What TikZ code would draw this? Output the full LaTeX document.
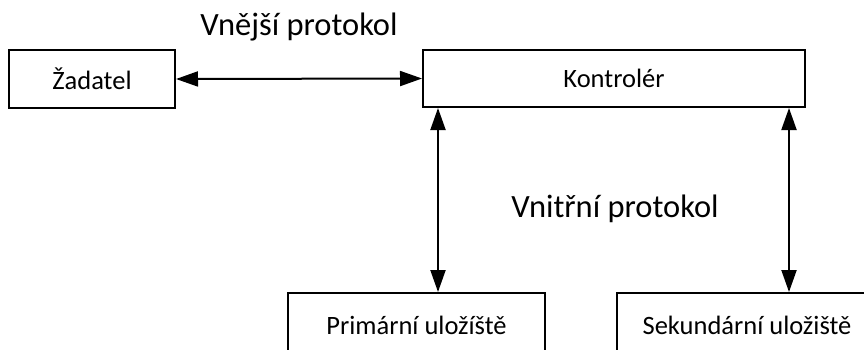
\documentclass[tikz,border=0pt]{standalone}
\usepackage{fontspec}
\setmainfont{Carlito}
\usetikzlibrary{arrows.meta}
\begin{document}
\begin{tikzpicture}[x=1pt,y=-1pt,
  blok/.style={draw,line width=2pt,inner sep=0pt,font=\fontsize{26.5}{31}\selectfont},
  popis/.style={inner sep=0pt,anchor=base,font=\fontsize{32.5}{38}\selectfont},
  obousm/.style={line width=2pt,{Triangle[length=22pt,width=15pt]}-{Triangle[length=22pt,width=15pt]}}]
  \clip (0,0) rectangle (864,349);
  % blocks
  \node[blok,minimum width=166pt,minimum height=58pt] (zad) at (92,79) {Žadatel};
  \node[blok,minimum width=382pt,minimum height=57pt] (kon) at (614,78.5) {Kontrolér};
  \node[blok,minimum width=257pt,minimum height=64pt] (pri) at (416.5,325) {Primární uložíště};
  \node[blok,minimum width=260pt,minimum height=64pt] (sek) at (747,325) {Sekundární uložiště};
  % protocol labels
  \node[popis] (vnejsi) at (299,35) {Vnější protokol};
  \node[popis] (vnitrni) at (615,217) {Vnitřní protokol};
  % connections
  \draw[obousm] (zad.east) -- (kon.west);
  \draw[obousm] ([xshift=16pt]kon.south west) -- ([xshift=16pt]kon.south west |- pri.north);
  \draw[obousm] ([xshift=-17pt]kon.south east) -- ([xshift=-17pt]kon.south east |- sek.north);
\end{tikzpicture}
\end{document}
